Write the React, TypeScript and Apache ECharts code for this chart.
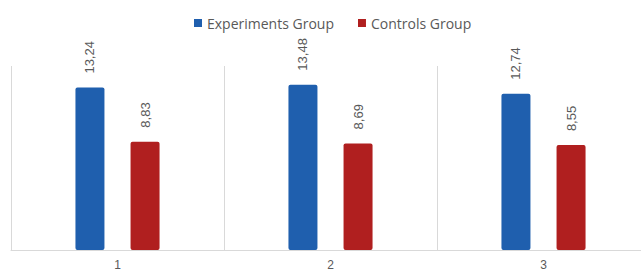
import React, { useEffect, useRef } from "react";
import * as echarts from "echarts";

const categories = ["1", "2", "3"];
const experimentsValues = [13.24, 13.48, 12.74];
const controlsValues = [8.83, 8.69, 8.55];
const seriesNames = ["Experiments Group", "Controls Group"];

export default function App() {
  const ref = useRef<HTMLDivElement>(null);
  useEffect(() => {
    document.body.style.margin = "0";
    const chart = echarts.init(ref.current!, null, { renderer: "svg" });
    const label = {
      show: true,
      position: "top" as const,
      rotate: 90,
      align: "left" as const,
      verticalAlign: "middle" as const,
      distance: 14,
      color: "#595959",
      fontSize: 13,
      fontFamily: "Liberation Sans, Arial, sans-serif",
      formatter: (p: any) => String(p.value.toFixed(2)).replace(".", ","),
    };
    chart.setOption({
      animation: false,
      backgroundColor: "#ffffff",
      legend: {
        left: 189,
        top: 11,
        icon: "rect",
        itemWidth: 8,
        itemHeight: 8,
        itemGap: 24,
        textStyle: { color: "#595959", fontSize: 14, fontFamily: "Open Sans, sans-serif" },
        data: seriesNames,
      },
      grid: { left: 11, right: 0, top: 66, bottom: 28 },
      xAxis: {
        type: "category",
        data: categories,
        axisTick: { show: false },
        axisLine: { lineStyle: { color: "#d9d9d9", width: 1 } },
        splitLine: { show: true, lineStyle: { color: "#d9d9d9", width: 1 } },
        axisLabel: { color: "#595959", fontSize: 12, margin: 9, fontFamily: "Liberation Sans, Arial, sans-serif" },
      },
      yAxis: { type: "value", min: 0, max: 15, show: false, splitLine: { show: false } },
      series: [
        {
          name: seriesNames[0],
          type: "bar",
          data: experimentsValues,
          barWidth: 29,
          barGap: "90%",
          itemStyle: { color: "#1F5FAE", borderRadius: 2 },
          label,
        },
        {
          name: seriesNames[1],
          type: "bar",
          data: controlsValues,
          barWidth: 29,
          barGap: "90%",
          itemStyle: { color: "#B01F1F", borderRadius: 2 },
          label,
        },
      ],
    });
    return () => chart.dispose();
  }, []);
  return (
    <div style={{ width: 641, height: 278, overflow: "hidden", position: "relative" }}>
      <div ref={ref} style={{ width: 650, height: 278 }} />
    </div>
  );
}
